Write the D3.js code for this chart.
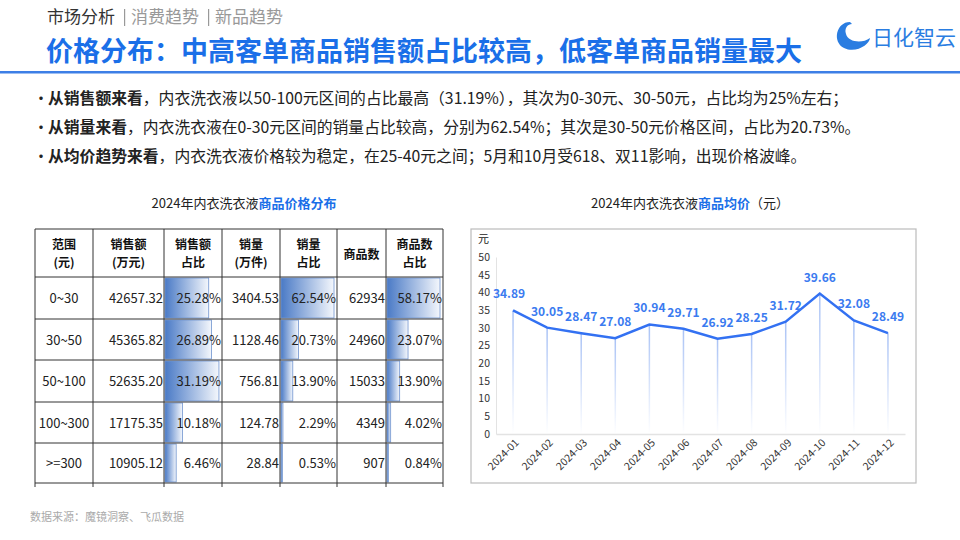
<!DOCTYPE html>
<html><head><meta charset="utf-8">
<script src="https://cdn.jsdelivr.net/npm/d3@7"></script>
<style>body{margin:0;background:#fff;font-family:"Noto Sans CJK SC","Noto Sans",sans-serif}</style>
</head><body><svg id="c" width="960" height="540"></svg>
<script>
const ranges=["0~30","30~50","50~100","100~300",">=300"];
const salesAmt=["42657.32","45365.82","52635.20","17175.35","10905.12"];
const salesShare=[25.28,26.89,31.19,10.18,6.46];
const volume=["3404.53","1128.46","756.81","124.78","28.84"];
const volShare=[62.54,20.73,13.90,2.29,0.53];
const itemCount=["62934","24960","15033","4349","907"];
const itemShare=[58.17,23.07,13.90,4.02,0.84];
const months=["2024-01","2024-02","2024-03","2024-04","2024-05","2024-06","2024-07","2024-08","2024-09","2024-10","2024-11","2024-12"];
const prices=[34.89,30.05,28.47,27.08,30.94,29.71,26.92,28.25,31.72,39.66,32.08,28.49];
const yTicks=[0,5,10,15,20,25,30,35,40,45,50];

const svg=d3.select("#c"), F='"Noto Sans CJK SC",sans-serif';
const blue="#1a6fe8";
const navs=[["市场分析","#333"],["消费趋势","#999"],["新品趋势","#999"]];
navs.forEach((n,i)=>{svg.append("text").attr("x",47+i*84).attr("y",23).attr("font-size",17).attr("fill",n[1]).attr("font-family",F).text(n[0]);
 if(i>0)svg.append("rect").attr("x",47+i*84-7).attr("y",9).attr("width",1.2).attr("height",17).attr("fill","#999");});
svg.append("text").attr("x",46).attr("y",61).attr("font-size",27).attr("font-weight","bold").attr("fill",blue).attr("font-family",F)
 .text("价格分布：中高客单商品销售额占比较高，低客单商品销量最大");
svg.append("rect").attr("x",0).attr("y",71).attr("width",960).attr("height",2.5).attr("fill","#3d7fe6");
const lg=svg.append("g").attr("transform","translate(836,36)");
lg.append("path").attr("d","M14,-14 C0,-14 -4,6 8,12 C20,18 34,8 34,2 C26,8 12,6 10,-2 C8,-8 12,-12 16,-12 Z").attr("fill","#2a7de1");
lg.append("text").attr("x",36).attr("y",9).attr("font-size",21).attr("fill","#2a7de1").attr("font-family",F).text("日化智云");

const bullets=[["从销售额来看","，内衣洗衣液以50-100元区间的占比最高（31.19%），其次为0-30元、30-50元，占比均为25%左右；"],
["从销量来看","，内衣洗衣液在0-30元区间的销量占比较高，分别为62.54%；其次是30-50元价格区间，占比为20.73%。"],
["从均价趋势来看","，内衣洗衣液价格较为稳定，在25-40元之间；5月和10月受618、双11影响，出现价格波峰。"]];
bullets.forEach((b,i)=>{
 svg.append("text").attr("x",33).attr("y",104+i*29).attr("font-size",16).attr("fill","#222").text("•");
 const t=svg.append("text").attr("x",48).attr("y",104+i*29).attr("font-size",15.8).attr("fill","#222").attr("font-family",F);
 t.append("tspan").attr("font-weight","bold").text(b[0]);t.append("tspan").text(b[1]);});

svg.append("text").attr("x",244).attr("y",208).attr("text-anchor","middle").attr("font-size",13).attr("font-family",F).attr("fill","#222")
 .html('2024年内衣洗衣液<tspan fill="'+blue+'" font-weight="bold">商品价格分布</tspan>');
svg.append("text").attr("x",690).attr("y",208).attr("text-anchor","middle").attr("font-size",13).attr("font-family",F).attr("fill","#222")
 .html('2024年内衣洗衣液<tspan fill="'+blue+'" font-weight="bold">商品均价</tspan>（元）');

const defs=svg.append("defs");
const gr=defs.append("linearGradient").attr("id","bg");
gr.append("stop").attr("offset","0%").attr("stop-color","#4a7ac6");
gr.append("stop").attr("offset","100%").attr("stop-color","#f4f7fc");
const colX=[35,93,164,222,280,337,386,443];
const rowY=[229,277,319,360,402,443,483];
const heads=[["范围","(元)"],["销售额","(万元)"],["销售额","占比"],["销量","(万件)"],["销量","占比"],["商品数"],["商品数","占比"]];
const tg=svg.append("g");
const cols=[ranges,salesAmt,salesShare,volume,volShare,itemCount,itemShare];
[2,4,6].forEach(c=>{const vals=cols[c];const s=d3.scaleLinear().domain([0,d3.max(vals)]).range([0,(colX[c+1]-colX[c])*0.93]);
 vals.forEach((v,r)=>tg.append("rect").attr("x",colX[c]+1).attr("y",rowY[r+1]+1).attr("width",Math.max(1.5,s(v))).attr("height",rowY[r+2]-rowY[r+1]-2)
  .attr("fill","url(#bg)").attr("stroke","#6f93cf").attr("stroke-width",0.8));});
heads.forEach((h,c)=>{const cx=(colX[c]+colX[c+1])/2;
 h.forEach((t,k)=>tg.append("text").attr("x",cx).attr("y",h.length==1?259:249+k*18).attr("text-anchor","middle").attr("font-size",12).attr("font-weight","bold").attr("font-family",F).attr("fill","#111").text(t));});
cols.forEach((vals,c)=>vals.forEach((v,r)=>{const y=(rowY[r+1]+rowY[r+2])/2+5;
 const txt=(c==2||c==4||c==6)?v.toFixed(2)+"%":v;
 const center=c==0;
 tg.append("text").attr("x",center?(colX[c]+colX[c+1])/2:colX[c+1]-1).attr("y",y).attr("text-anchor",center?"middle":"end")
  .attr("font-size",13).attr("font-family",F).attr("fill","#222").text(txt);}));
colX.forEach(x=>tg.append("line").attr("x1",x).attr("x2",x).attr("y1",229).attr("y2",487).attr("stroke","#333").attr("stroke-width",1));
rowY.forEach(y=>tg.append("line").attr("x1",35).attr("x2",443).attr("y1",y).attr("y2",y).attr("stroke","#333").attr("stroke-width",1));

svg.append("rect").attr("x",471).attr("y",229).attr("width",445).attr("height",254).attr("fill","none").attr("stroke","#bbb").attr("stroke-width",1.2);
const x=d3.scaleBand().domain(months).range([496,905]);
const y=d3.scaleLinear().domain([0,50]).range([434,257]);
const vg=defs.append("linearGradient").attr("id","vg").attr("x1",0).attr("x2",0).attr("y1",0).attr("y2",1);
vg.append("stop").attr("offset","0%").attr("stop-color","#a9c2f5");vg.append("stop").attr("offset","100%").attr("stop-color","#fff");
const cx=d=>x(d)+x.bandwidth()/2;
months.forEach((m,i)=>svg.append("rect").attr("x",cx(m)-0.75).attr("y",y(prices[i])).attr("width",1.5).attr("height",434-y(prices[i])).attr("fill","url(#vg)"));
const ya=svg.append("g").attr("transform","translate(496,0)").call(d3.axisLeft(y).tickValues(yTicks).tickSize(0).tickPadding(6));
ya.selectAll("text").attr("font-size",10.5).attr("fill","#333").attr("font-family",F);
ya.select(".domain").attr("stroke","#e3e3e3");
const xa=svg.append("g").attr("transform","translate(0,434)").call(d3.axisBottom(x).tickSize(0).tickPadding(6));
xa.select(".domain").attr("stroke","#e3e3e3").attr("stroke-width",1.5);
xa.selectAll("text").attr("font-size",10.5).attr("fill","#333").attr("font-family",F).attr("text-anchor","end")
 .attr("transform","rotate(-45)").attr("dx","-2").attr("dy","0.5em");
svg.append("text").attr("x",478).attr("y",243).attr("font-size",11).attr("font-family",F).attr("fill","#222").text("元");
svg.append("path").datum(prices).attr("fill","none").attr("stroke","#3371f2").attr("stroke-width",2.5)
 .attr("d",d3.line().x((d,i)=>cx(months[i])).y(d=>y(d)));
prices.forEach((p,i)=>svg.append("text").attr("x",cx(months[i])+(i==0?-4:0)).attr("y",y(p)-12).attr("text-anchor","middle").attr("font-size",12).attr("font-weight","bold")
 .attr("font-family",F).attr("fill","#3b7bf0").text(p.toFixed(2)));

svg.append("text").attr("x",30).attr("y",521).attr("font-size",11).attr("fill","#aaa").attr("font-family",F).text("数据来源：魔镜洞察、飞瓜数据");
</script></body></html>
